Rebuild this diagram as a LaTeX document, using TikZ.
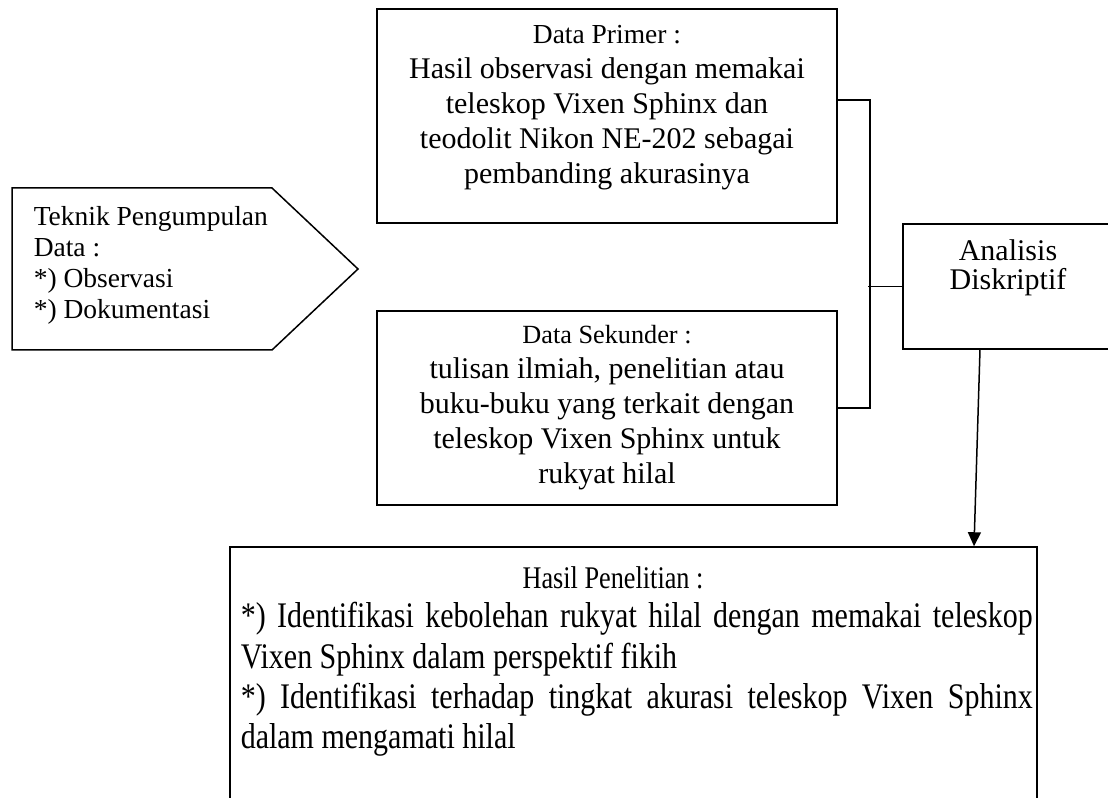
\documentclass[tikz,border=0pt]{standalone}
\usepackage{fontspec}
\setmainfont{Liberation Serif}
\usepackage{graphicx}
\usetikzlibrary{arrows.meta}

\tikzset{every picture/.style={line width=0.6pt}}
\tikzset{box/.style={draw=black, inner sep=0pt}}
\tikzset{txt/.style={inner sep=0pt, align=center, font=\fontsize{12}{14}\selectfont}}

\begin{document}
\begin{tikzpicture}[x=0.4pt,y=-0.4pt]
\useasboundingbox (0,0) rectangle (1108,798);
% teknik pengumpulan data
\draw (12,188) -- (272,188) -- (358,269) -- (272,350) -- (12,350) -- cycle;
\node [txt, align=left, anchor=north west, font=\fontsize{11}{12.4}\selectfont] (teknik) at (33,206) {Teknik Pengumpulan\\Data :\\*) Observasi\\*) Dokumentasi};
% data primer dan sekunder
\node [box, minimum width=184pt, minimum height=85.6pt] (primer) at (607,116) {};
\node [txt] (primertxt) at (607,107.5) {{\fontsize{11}{14}\selectfont Data Primer :}\\Hasil observasi dengan memakai\\teleskop Vixen Sphinx dan\\teodolit Nikon NE-202 sebagai\\pembanding akurasinya};
\node [box, txt, minimum width=184pt, minimum height=77.6pt] (sekunder) at (607,408) {{\fontsize{10.5}{14}\selectfont Data Sekunder :}\\tulisan ilmiah, penelitian atau\\buku-buku yang terkait dengan\\teleskop Vixen Sphinx untuk\\rukyat hilal};
% analisis
\node [box, minimum width=84pt, minimum height=50pt] (analisis) at (1008,286.5) {};
\node [txt, font=\fontsize{12}{11.5}\selectfont] (analisistxt) at (1008,267.5) {Analisis\\Diskriptif};
\draw ([yshift=6.4pt]primer.east) -- ++(32,0) |- (sekunder.east);
\draw (analisis.west) -- ++(-34,0);
% hasil penelitian
\node [box, minimum width=322.8pt, minimum height=125.2pt] (hasil) at (633.5,703.5) {};
\node [inner sep=0pt, anchor=base] (hasiljudul) at (613,589) {\fontsize{10.5}{12}\selectfont\scalebox{1}[1.2]{Hasil Penelitian :}};
\node [inner sep=0pt, anchor=base west] (hasilisi) at (240,628) {\scalebox{1}[1.2]{\parbox[t]{316.8pt}{\fontsize{12}{13.4}\selectfont\hyphenpenalty=10000 \parindent=0pt \parskip=0pt
*) Identifikasi kebolehan rukyat hilal dengan memakai teleskop Vixen Sphinx dalam perspektif fikih\par
*) Identifikasi terhadap tingkat akurasi teleskop Vixen Sphinx dalam mengamati hilal}}};
\draw [-{Triangle[length=5.6pt,width=5.2pt]}] ([xshift=-11.2pt]analisis.south) -- ([xshift=136.2pt]hasil.north);
\end{tikzpicture}
\end{document}
